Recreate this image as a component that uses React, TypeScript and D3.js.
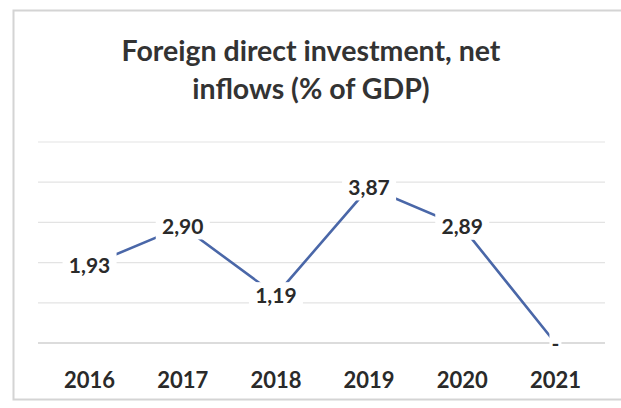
import React from "react";
import * as d3 from "d3";

const years = ["2016", "2017", "2018", "2019", "2020", "2021"];
const values = [1.93, 2.9, 1.19, 3.87, 2.89, 0];
const labels = ["1,93", "2,90", "1,19", "3,87", "2,89", "-"];
const yTicks = [0, 1, 2, 3, 4, 5];
const titleLines = ["Foreign direct investment, net", "inflows (% of GDP)"];

const W = 621;
const H = 408;
const FONT = "Lato, 'Open Sans', 'DejaVu Sans', sans-serif";

export default function App() {
  const x = d3.scaleBand().domain(years).range([43, 602]);
  const y = d3.scaleLinear().domain([0, 5]).range([343, 142]);
  const cx = (d: string) => (x(d) as number) + x.bandwidth() / 2;
  const line = d3
    .line<number>()
    .x((_, i) => cx(years[i]))
    .y((v) => y(v));

  return (
    <svg
      width={W}
      height={H}
      style={{ position: "absolute", left: 0, top: 0, background: "#fff" }}
    >
      <rect x={0} y={0} width={W} height={H} fill="#fff" />
      <rect x={13.5} y={10.5} width={620} height={389} fill="#fff" stroke="#d4d4d4" strokeWidth={2} />
      {titleLines.map((t, i) => (
        <text
          key={i}
          x={311}
          y={61 + i * 38}
          textAnchor="middle"
          fontFamily={FONT}
          fontWeight="bold"
          fontSize={28.5}
          fill="#333"
        >
          {t}
        </text>
      ))}
      {yTicks.map((t) => (
        <line
          key={t}
          x1={38}
          x2={605}
          y1={y(t)}
          y2={y(t)}
          stroke={t === 0 ? "#d0d0d0" : "#e3e3e3"}
          strokeWidth={t === 0 ? 1.5 : 1.2}
        />
      ))}
      <path d={line(values) || ""} fill="none" stroke="#4a67a8" strokeWidth={2.6} />
      {values.map((v, i) => {
        const w = labels[i].length > 1 ? 54 : 12;
        return (
          <g key={i}>
            <rect x={cx(years[i]) - w / 2} y={y(v) - 13} width={w} height={26} fill="#fff" />
            <text
              x={cx(years[i])}
              y={y(v) + 7.5}
              textAnchor="middle"
              fontFamily={FONT}
              fontWeight="bold"
              fontSize={21}
              fill="#2a2a2a"
            >
              {labels[i]}
            </text>
          </g>
        );
      })}
      {years.map((yr) => (
        <text
          key={yr}
          x={cx(yr)}
          y={388}
          textAnchor="middle"
          fontFamily={FONT}
          fontWeight="bold"
          fontSize={22}
          fill="#2a2a2a"
        >
          {yr}
        </text>
      ))}
    </svg>
  );
}
